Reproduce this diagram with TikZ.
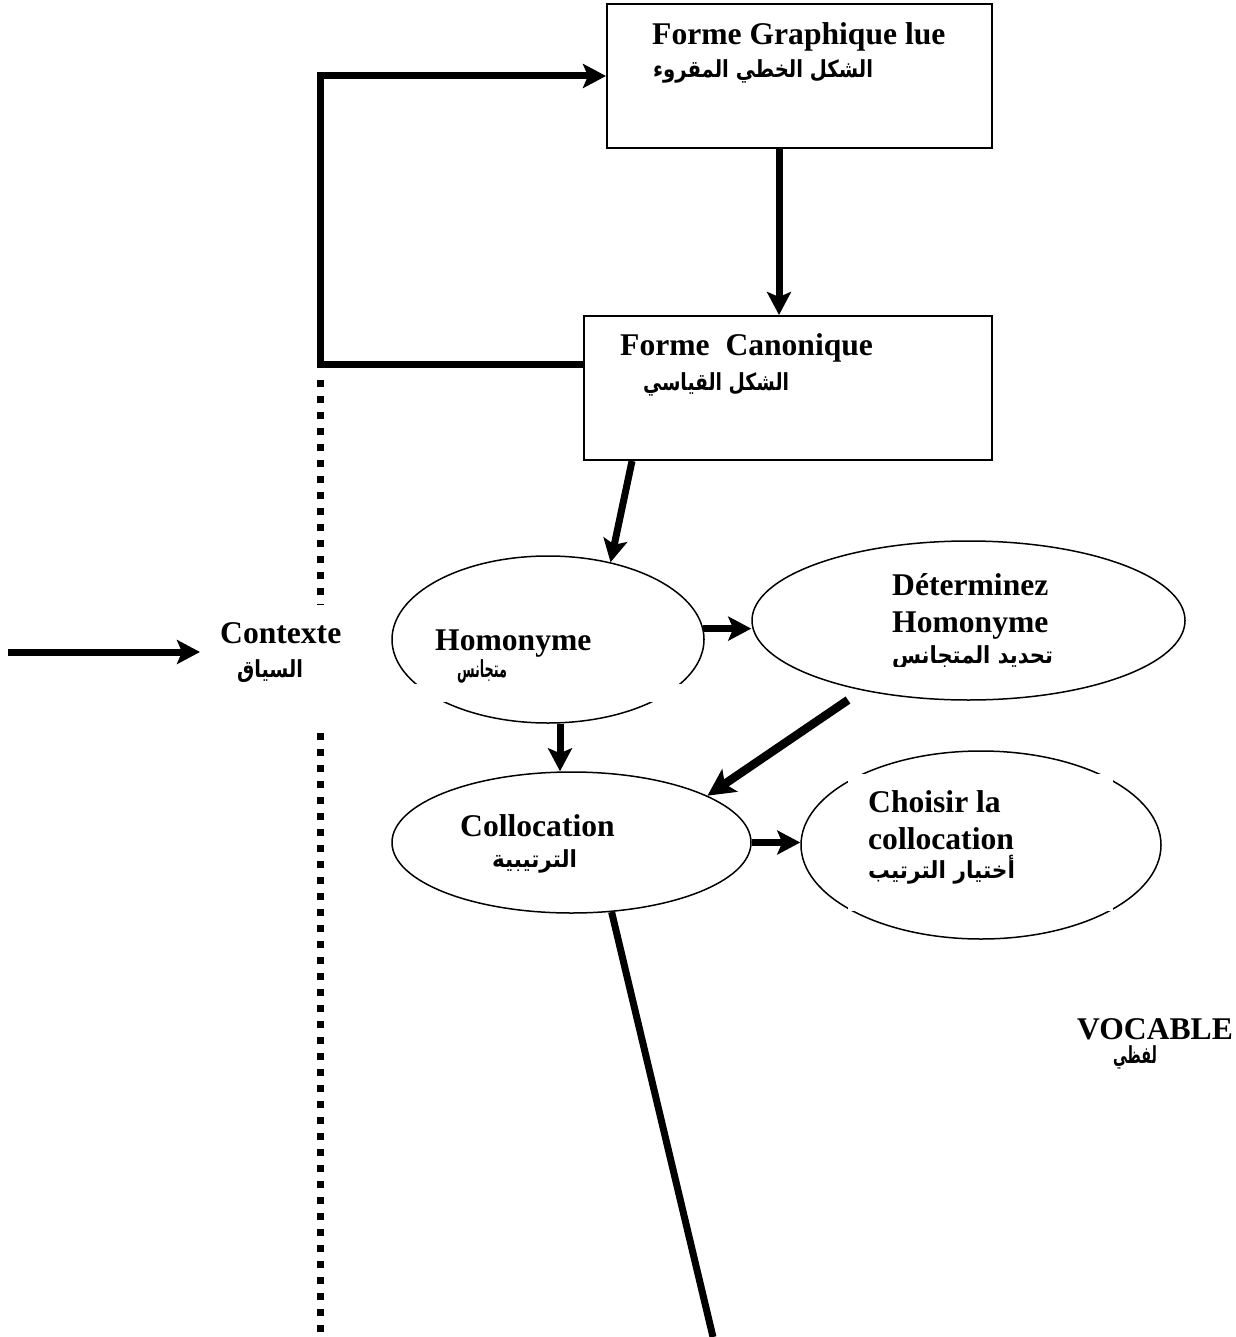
\documentclass[tikz,border=0pt]{standalone}
\usepackage{graphicx}
\usepackage{fontspec}
\setmainfont{Liberation Serif}
\newfontfamily\arabicfont[Script=Arabic]{DejaVu Sans}
\TeXXeTstate=1
\usetikzlibrary{shapes.geometric,arrows.meta}

% a line of text squeezed or widened to a given width, height kept
\newcommand\arline[2]{\resizebox{#1}{\height}{#2}}

\tikzset{
  lat/.style={anchor=base west, inner sep=0pt, font=\fontsize{31.6}{36}\selectfont\bfseries},
  ara/.style={anchor=base, inner sep=0pt, font=\fontsize{23.5}{27}\selectfont\arabicfont\bfseries},
  boxshape/.style={draw, line width=2pt, rectangle, inner sep=0pt},
  ell/.style={draw, line width=1.5pt, ellipse, inner sep=0pt},
  flow/.style={line width=7pt, -{Stealth[length=23pt,width=24pt,inset=5pt]}},
  heavyflow/.style={line width=8.5pt, -{Stealth[length=27pt,width=27pt,inset=6pt]}},
  bar/.style={line width=7pt},
  dots/.style={line width=7pt, dash pattern=on 7pt off 9pt},
}

\begin{document}
\begin{tikzpicture}[x=1pt, y=-1pt]
  \useasboundingbox (0,0) rectangle (1235,1337);

  % frames
  \node[boxshape, minimum width=385pt, minimum height=144pt] (box1) at (799.5,76) {};
  \node[boxshape, minimum width=408pt, minimum height=144pt] (box2) at (788,388) {};

  % ellipses
  \node[ell, minimum width=312pt, minimum height=167pt] (hom) at (548,639.5) {};
  \node[ell, minimum width=433pt, minimum height=159pt] (det) at (968.5,620.5) {};
  \node[ell, minimum width=359pt, minimum height=141pt] (col) at (571.5,842.5) {};
  \node[ell, minimum width=360pt, minimum height=188pt] (cho) at (981,845) {};

  % white text frames that break the outlines
  \fill[white] (412,684) rectangle (685,702);
  \fill[white] (848,774) rectangle (1113,911);

  % labels
  \node[lat] (t1) at (652,45) {Forme Graphique lue};
  \node[ara] (t1a) at (763,78) {\arline{220pt}{\beginR الشكل الخطي المقروء\endR}};

  \node[lat] (t2) at (620,355) {Forme\ \ Canonique};
  \node[ara] (t2a) at (716,390) {\arline{146pt}{\beginR الشكل القياسي\endR}};

  \node[lat] (homT) at (435,650) {Homonyme};
  \node[ara] (homA) at (482,677) {\arline{50pt}{\beginR متجانس\endR}};

  \node[lat] (detT1) at (892,595) {Déterminez};
  \node[lat] (detT2) at (892,632) {Homonyme};
  \begin{scope}
    \clip (740,540) rectangle (1200,666);
    \node[ara] (detA) at (972.5,663) {\arline{161pt}{\beginR تحديد المتجانس\endR}};
  \end{scope}

  \node[lat] (colT) at (460,836) {Collocation};
  \node[ara] (colA) at (534.5,867) {\arline{85pt}{\beginR الترتيبية\endR}};

  \node[lat] (choT1) at (868,812) {Choisir la};
  \node[lat] (choT2) at (868,849) {collocation};
  \node[ara] (choA) at (941.5,878) {\arline{147pt}{\beginR أختيار الترتيب\endR}};

  \node[lat] (ctxT) at (220,643) {Contexte};
  \node[ara] (ctxA) at (270,677) {\arline{66pt}{\beginR السياق\endR}};

  \node[lat] (vocT) at (1077,1039) {VOCABLE};
  \node[ara] (vocA) at (1135,1063) {\arline{44pt}{\beginR لفظي\endR}};

  % helper points
  \coordinate (kneeLow) at (320,364);
  \coordinate (kneeHigh) at (320,76);
  \coordinate (mid1) at (779,0);
  \coordinate (s3) at (632,461);
  \coordinate (c5) at (560,0);
  \coordinate (s6) at (848,700);
  \coordinate (bottomEnd) at (713,1337);
  \coordinate (ctxStart) at (8,652);
  \coordinate (ctxTip) at (200,652);
  \coordinate (dotA1) at (320,380);
  \coordinate (dotA2) at (320,605);
  \coordinate (dotB1) at (320,733);
  \coordinate (dotB2) at (320,1337);

  % context feedback loop
  \draw[flow, line join=miter] (kneeLow -| box2.west) -- (kneeLow) -- (kneeHigh) -- (kneeHigh -| box1.west);
  \draw[dots] (dotA1) -- (dotA2);
  \draw[dots] (dotB1) -- (dotB2);
  \draw[flow] (ctxStart) -- (ctxTip);

  % main flow
  \draw[flow] (mid1 |- box1.south) -- (mid1 |- box2.north);
  \draw[flow] (s3) -- (hom.51);
  \draw[flow] (hom.4) -- (hom.4 -| det.west);
  \draw[flow] (c5 |- hom.south) -- (c5 |- col.north);
  \draw[heavyflow] (s6) -- (col.19);
  \draw[flow] (col.east) -- (col.east -| cho.west);
  \draw[bar] (col.-60) -- (bottomEnd);
\end{tikzpicture}
\end{document}
